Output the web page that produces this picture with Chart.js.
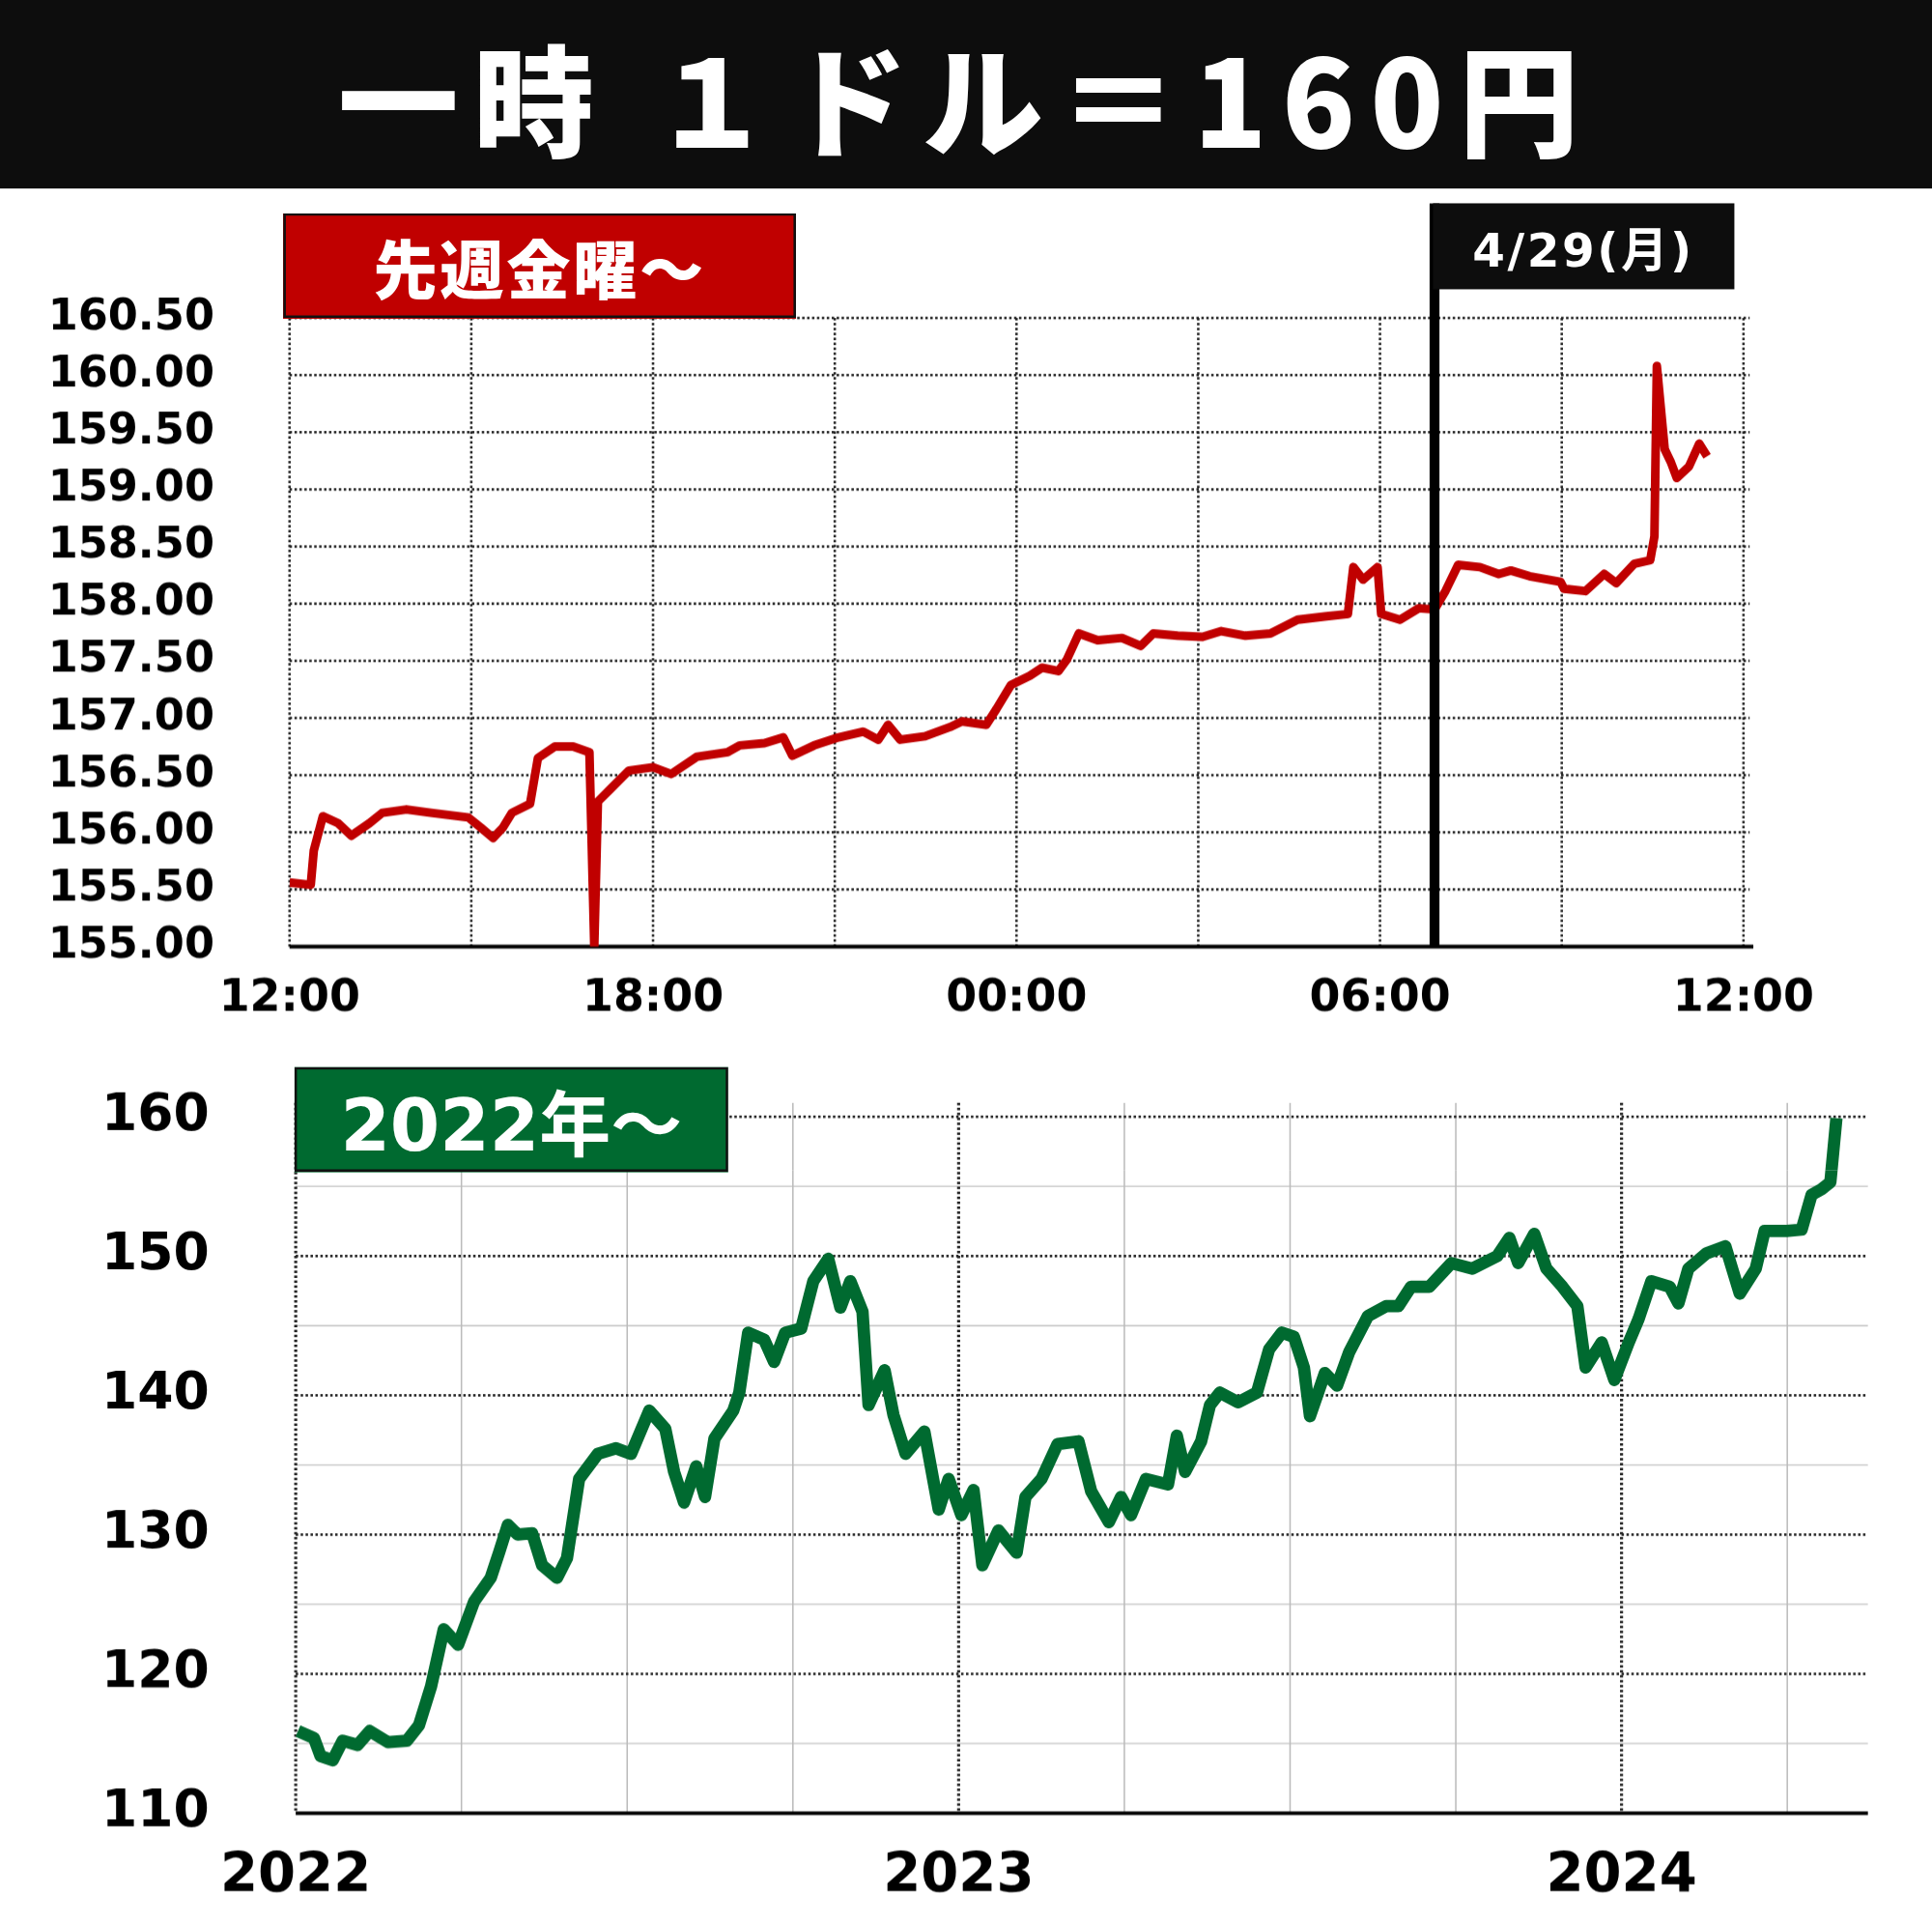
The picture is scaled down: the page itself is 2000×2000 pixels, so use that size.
<!DOCTYPE html>
<html><head><meta charset="utf-8">
<script src="https://cdn.jsdelivr.net/npm/chart.js@4"></script>
<style>
html,body{margin:0;padding:0;background:#fff;width:2000px;height:2000px;overflow:hidden}
#wrap{position:absolute;left:0;top:0;width:1568px;height:1568px;transform:scale(1.27551);transform-origin:0 0;background:#fff}
.abs{position:absolute}
canvas{position:absolute;left:0;top:0}
.lbl{display:flex;align-items:center;justify-content:center;color:#fff;font-family:"Noto Sans CJK JP";font-weight:900;box-sizing:border-box;white-space:nowrap}
</style></head><body>
<div id="wrap">
<div class="abs lbl" style="left:0;top:0;width:1568px;height:153px;background:#0d0d0d;font-size:98px;letter-spacing:12px">一時 １ドル＝160円</div>
<div class="abs" style="left:0;top:160px;width:1568px;height:680px"><canvas id="c1" width="1568" height="680"></canvas></div>
<div class="abs" style="left:0;top:870px;width:1568px;height:700px"><canvas id="c2" width="1568" height="700"></canvas></div>
<div class="abs lbl" style="left:230px;top:173px;width:416px;height:85px;background:#c00000;border:2px solid #111;font-size:52px;letter-spacing:2px">先週金曜～</div>
<div class="abs lbl" style="left:1163px;top:165px;width:244px;height:69px;background:#0d0d0d;font-size:38px;letter-spacing:2px;font-family:'DejaVu Sans','Noto Sans CJK JP';font-weight:bold">4/29(月)</div>
<div class="abs lbl" style="left:239px;top:866px;width:352px;height:85px;background:#006a30;border:2px solid #111;font-size:58px;font-family:'DejaVu Sans','Noto Sans CJK JP';font-weight:bold">2022年～</div>
</div>
<script>
// top chart: hours since Fri 12:00
const hoursTop=[0,0.35,0.4,0.55,0.8,1.02,1.32,1.53,1.93,2.34,2.95,3.16,3.36,3.52,3.67,3.97,4.1,4.38,4.68,4.95,5.03,5.09,5.3,5.6,6.0,6.3,6.72,7.23,7.43,7.84,8.15,8.3,8.66,9.06,9.47,9.72,9.88,10.08,10.49,10.9,11.1,11.5,11.67,11.91,12.22,12.42,12.69,12.83,13.03,13.34,13.74,14.05,14.26,14.66,15.07,15.38,15.78,16.19,16.64,17.11,17.47,17.56,17.72,17.96,18.02,18.33,18.64,18.9,19.08,19.29,19.65,19.96,20.16,20.47,20.98,21.04,21.39,21.7,21.9,22.2,22.46,22.53,22.57,22.7,22.8,22.9,23.1,23.27,23.4];
const usdjpyTop=[155.56,155.54,155.84,156.14,156.08,155.97,156.08,156.17,156.2,156.17,156.13,156.04,155.95,156.04,156.17,156.25,156.65,156.75,156.75,156.7,155.0,156.27,156.38,156.54,156.57,156.51,156.66,156.7,156.76,156.78,156.83,156.67,156.76,156.83,156.88,156.81,156.94,156.81,156.84,156.92,156.97,156.94,157.08,157.29,157.37,157.44,157.41,157.51,157.74,157.68,157.7,157.63,157.74,157.72,157.71,157.76,157.72,157.74,157.86,157.89,157.91,158.32,158.21,158.32,157.91,157.86,157.96,157.95,158.11,158.34,158.32,158.26,158.29,158.24,158.19,158.13,158.11,158.26,158.18,158.35,158.38,158.59,160.08,159.35,159.24,159.1,159.2,159.4,159.29];
const topTickLabels=["12:00","18:00","00:00","06:00","12:00"];
const mondayOpenHour=18.9;
// bottom chart: months since Jan 2022
const monthsBottom=[0.04,0.33,0.45,0.67,0.85,1.12,1.34,1.67,2.01,2.23,2.45,2.68,2.94,3.23,3.53,3.68,3.84,4.02,4.28,4.46,4.73,4.91,5.13,5.47,5.8,6.07,6.4,6.69,6.85,7.03,7.25,7.41,7.58,7.92,8.03,8.19,8.48,8.66,8.86,9.15,9.37,9.64,9.86,10.04,10.26,10.37,10.66,10.82,11.04,11.38,11.64,11.82,12.05,12.27,12.43,12.72,13.05,13.21,13.5,13.79,14.17,14.4,14.72,14.94,15.12,15.39,15.79,15.95,16.1,16.39,16.55,16.73,17.06,17.4,17.62,17.85,18.07,18.25,18.36,18.63,18.85,19.07,19.41,19.74,19.96,20.19,20.52,20.92,21.3,21.75,21.97,22.13,22.42,22.64,22.93,23.2,23.35,23.64,23.87,24.13,24.31,24.54,24.87,25.03,25.21,25.54,25.88,26.14,26.43,26.59,26.99,27.26,27.44,27.62,27.78,27.89];
const usdjpyBottom=[115.9,115.4,114.1,113.8,115.2,114.9,115.9,115.1,115.2,116.3,119.1,123.2,122.1,125.2,126.9,128.7,130.7,130.0,130.1,127.8,126.9,128.3,134.0,135.8,136.2,135.8,138.9,137.6,134.5,132.3,134.9,132.7,136.9,138.9,140.2,144.5,144.0,142.4,144.5,144.8,148.2,149.8,146.3,148.2,146.0,139.3,141.8,138.6,135.8,137.4,131.8,134.0,131.4,133.2,127.8,130.3,128.7,132.7,134.0,136.5,136.7,133.1,130.9,132.7,131.4,134.0,133.6,137.1,134.5,136.7,139.3,140.2,139.5,140.2,143.3,144.5,144.2,142.0,138.5,141.6,140.7,143.1,145.7,146.4,146.4,147.8,147.8,149.5,149.1,150.0,151.3,149.5,151.6,149.1,147.8,146.4,142.0,143.8,141.1,143.8,145.5,148.2,147.8,146.6,149.1,150.2,150.7,147.3,149.1,151.8,151.8,151.9,154.4,154.8,155.3,159.9];
const bottomYearLabels=["2022","2023","2024"];

const DPR=1.27551;
const FONT="'DejaVu Sans', Verdana, sans-serif";
function hline(ctx,y,x1,x2,color,w,dash){ctx.save();ctx.beginPath();ctx.strokeStyle=color;ctx.lineWidth=w;ctx.setLineDash(dash||[]);ctx.moveTo(x1,y);ctx.lineTo(x2,y);ctx.stroke();ctx.restore();}
function vline(ctx,x,y1,y2,color,w,dash){ctx.save();ctx.beginPath();ctx.strokeStyle=color;ctx.lineWidth=w;ctx.setLineDash(dash||[]);ctx.moveTo(x,y1);ctx.lineTo(x,y2);ctx.stroke();ctx.restore();}
function noPad(s){s.paddingLeft=0;s.paddingRight=0;s.paddingTop=0;s.paddingBottom=0;}

const gridTop={id:'gridTop',beforeDatasetsDraw(ch){const {ctx,chartArea:a,scales:{x,y}}=ch;
 for(let v=155.5;v<=160.51;v+=0.5)hline(ctx,y.getPixelForValue(v),a.left,a.right+5,'#222',2,[2,2]);
 for(let h=0;h<=24;h+=3)vline(ctx,x.getPixelForValue(h),a.top,a.bottom,'#222',2,[2,2]);
 hline(ctx,a.bottom,a.left,a.right+8,'#000',3);
},afterDatasetsDraw(ch){const {ctx,chartArea:a,scales:{x}}=ch;vline(ctx,x.getPixelForValue(mondayOpenHour),5,a.bottom,'#000',8);}};

const gridBot={id:'gridBot',beforeDatasetsDraw(ch){const {ctx,chartArea:a,scales:{x,y}}=ch;
 for(let v=115;v<=155;v+=10)hline(ctx,y.getPixelForValue(v),a.left,a.right,'#ccc',1.2);
 for(let m=3;m<=27;m+=3)if(m%12)vline(ctx,x.getPixelForValue(m),a.top,a.bottom,'#bbb',1.2);
 for(let v=120;v<=160;v+=10)hline(ctx,y.getPixelForValue(v),a.left,a.right,'#222',2,[2,2]);
 for(let m=0;m<=24;m+=12)vline(ctx,x.getPixelForValue(m),a.top,a.bottom,'#222',2.5,[2,2]);
 hline(ctx,a.bottom,a.left,a.right,'#000',3);
}};

new Chart(document.getElementById('c1'),{type:'line',
 data:{datasets:[{data:hoursTop.map((h,i)=>({x:h,y:usdjpyTop[i]})),borderColor:'#c00000',borderWidth:7,pointRadius:0,tension:0,borderJoinStyle:'round'}]},
 options:{responsive:false,animation:false,devicePixelRatio:DPR,
  layout:{padding:{top:98,right:153,left:0,bottom:0}},
  plugins:{legend:{display:false},tooltip:{enabled:false}},
  scales:{
   x:{type:'linear',min:0,max:24,grid:{display:false},border:{display:false},
      afterBuildTicks:s=>{s.ticks=[0,6,12,18,24].map(v=>({value:v}))},
      afterFit:s=>{s.height=72;noPad(s)},
      ticks:{padding:13,maxRotation:0,autoSkip:false,color:'#000',font:{family:FONT,weight:'bold',size:36},callback:(v)=>topTickLabels[v/6]}},
   y:{min:155,max:160.5,grid:{display:false},border:{display:false},
      afterBuildTicks:s=>{const t=[];for(let i=0;i<=11;i++)t.push({value:155+i*0.5});s.ticks=t},
      afterFit:s=>{s.width=235;noPad(s)},
      ticks:{padding:53,color:'#000',font:{family:FONT,weight:'bold',size:35},callback:v=>Number(v).toFixed(2)}}
  }},plugins:[gridTop]});

new Chart(document.getElementById('c2'),{type:'line',
 data:{datasets:[{data:monthsBottom.map((m,i)=>({x:m,y:usdjpyBottom[i]})),borderColor:'#006a30',borderWidth:10,pointRadius:0,tension:0,borderJoinStyle:'round'}]},
 options:{responsive:false,animation:false,devicePixelRatio:DPR,
  layout:{padding:{top:25,right:52,left:0,bottom:0}},
  plugins:{legend:{display:false},tooltip:{enabled:false}},
  scales:{
   x:{type:'linear',min:0,max:28.46,grid:{display:false},border:{display:false},
      afterBuildTicks:s=>{s.ticks=[0,12,24].map(v=>({value:v}))},
      afterFit:s=>{s.height=99;noPad(s)},
      ticks:{padding:18,maxRotation:0,autoSkip:false,color:'#000',font:{family:FONT,weight:'bold',size:44},callback:(v)=>bottomYearLabels[v/12]}},
   y:{min:110,max:161,grid:{display:false},border:{display:false},
      afterBuildTicks:s=>{s.ticks=[110,120,130,140,150,160].map(v=>({value:v}))},
      afterFit:s=>{s.width=240;noPad(s)},
      ticks:{padding:62,color:'#000',font:{family:FONT,weight:'bold',size:42}}}
  }},plugins:[gridBot]});
</script></body></html>
